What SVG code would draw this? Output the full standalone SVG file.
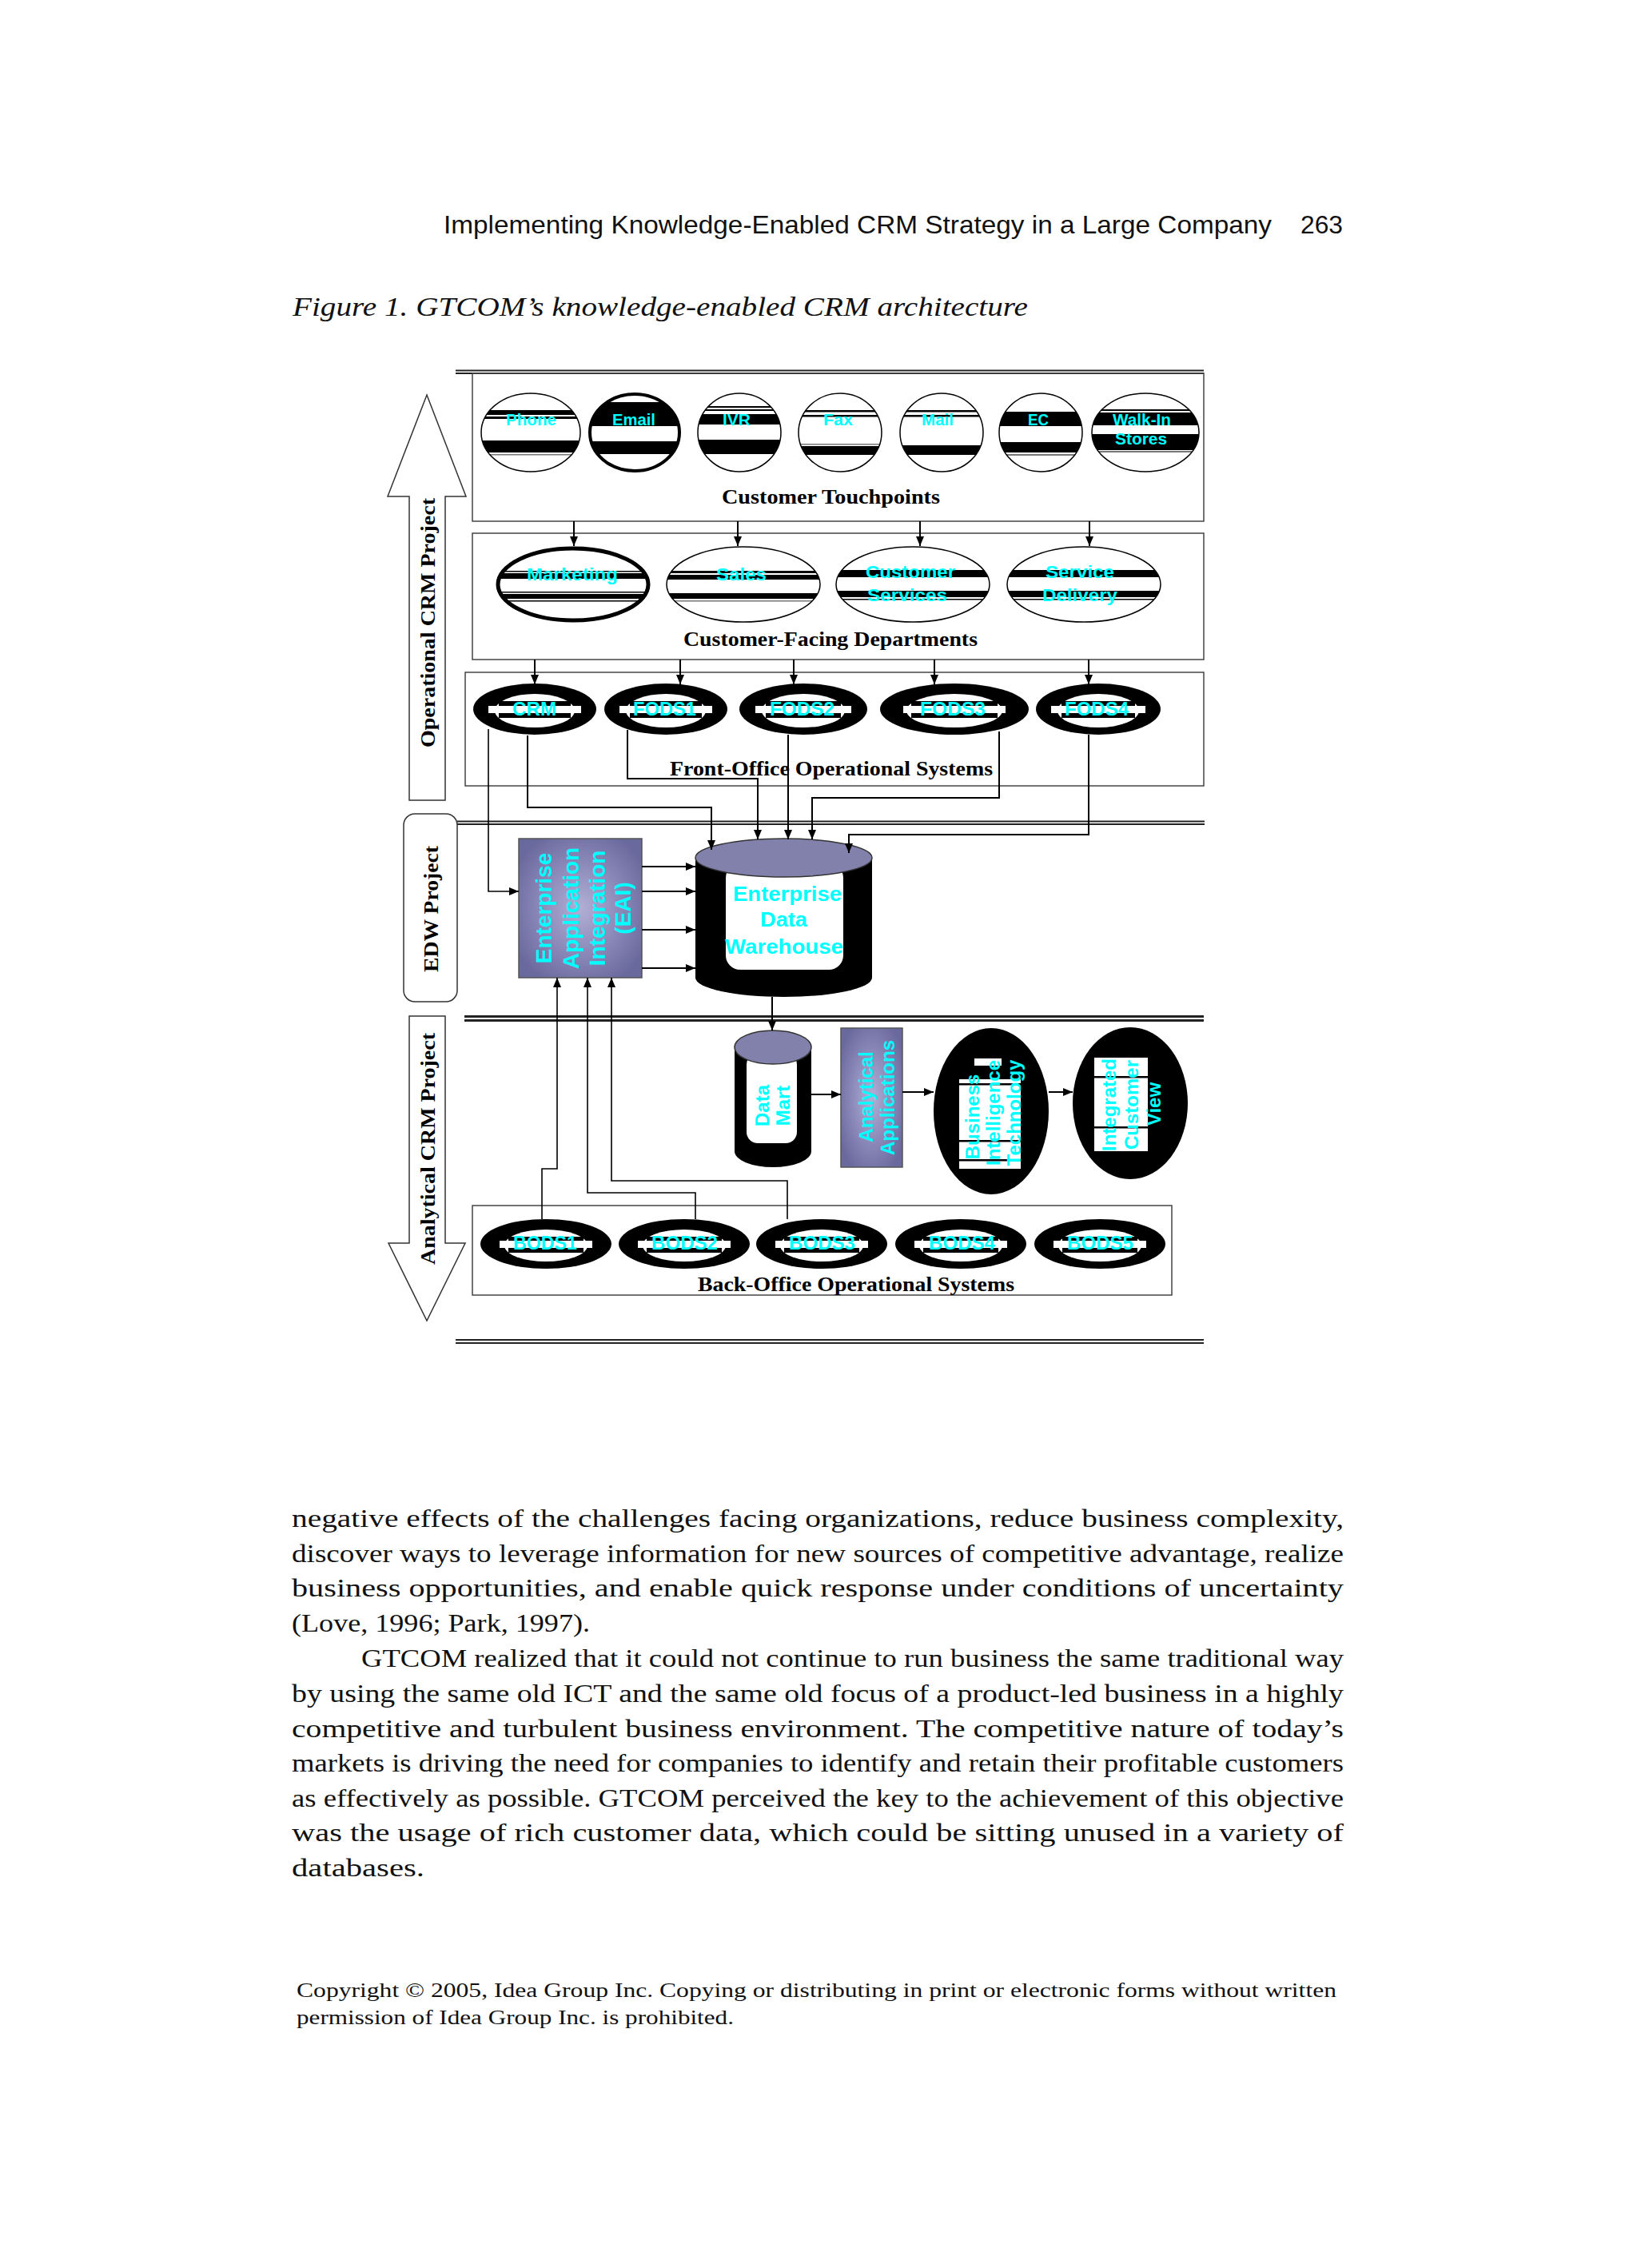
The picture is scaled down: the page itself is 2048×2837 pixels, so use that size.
<svg xmlns="http://www.w3.org/2000/svg" width="2048" height="2837" viewBox="0 0 2048 2837">
<style>
.hdr{font-family:"Liberation Sans",Arial,Helvetica,sans-serif;font-size:32px;fill:#111}
.cap{font-family:"Liberation Serif","Times New Roman",serif;font-style:italic;font-size:33px;fill:#111}
.ttl{font-family:"Liberation Serif","Times New Roman",serif;font-weight:bold;font-size:26px;fill:#000;text-anchor:middle}
.vt{font-family:"Liberation Serif","Times New Roman",serif;font-weight:bold;font-size:26px;fill:#000;text-anchor:middle;dominant-baseline:central}
.lbl{font-family:"Liberation Sans",Arial,sans-serif;font-weight:bold;fill:#00FFFF;text-anchor:middle}
.box{fill:none;stroke:#444;stroke-width:1.5}
.eo{fill:none;stroke:#000;stroke-width:1.5}
.conn{fill:none;stroke:#000;stroke-width:2}
.thin{fill:none;stroke:#000;stroke-width:1.6}
.arr{marker-end:url(#ah)}
.body{font-family:"Liberation Serif","Times New Roman",serif;font-size:31px;fill:#111}
.copy{font-family:"Liberation Serif","Times New Roman",serif;font-size:26px;fill:#111}
.dl{stroke:#222;fill:none}
.gl{stroke:#999;stroke-width:1}
.purp{fill:url(#purp);stroke:#555;stroke-width:1.5}
.top{fill:#8181AB;stroke:#333;stroke-width:1.5}
</style>
<defs>
<marker id="ah" viewBox="0 0 12 10" refX="12" refY="5" markerWidth="12" markerHeight="10" markerUnits="userSpaceOnUse" orient="auto"><path d="M0,0 L12,5 L0,10 z" fill="#000"/></marker>
<radialGradient id="purp" cx="50%" cy="50%" r="60%"><stop offset="0" stop-color="#B2AFD6"/><stop offset="1" stop-color="#6A699E"/></radialGradient>
<clipPath id="c-phone"><ellipse cx="664" cy="541" rx="62" ry="49"/></clipPath>
<clipPath id="c-email"><ellipse cx="794" cy="541" rx="57" ry="49"/></clipPath>
<clipPath id="c-ivr"><ellipse cx="925" cy="541" rx="52" ry="49"/></clipPath>
<clipPath id="c-fax"><ellipse cx="1051" cy="541" rx="52" ry="49"/></clipPath>
<clipPath id="c-mail"><ellipse cx="1178" cy="541" rx="52" ry="49"/></clipPath>
<clipPath id="c-ec"><ellipse cx="1302" cy="541" rx="52" ry="49"/></clipPath>
<clipPath id="c-walk"><ellipse cx="1433" cy="541" rx="67" ry="49"/></clipPath>
<clipPath id="c-mkt"><ellipse cx="717" cy="731" rx="96" ry="47"/></clipPath>
<clipPath id="c-sales"><ellipse cx="930" cy="731" rx="96" ry="47"/></clipPath>
<clipPath id="c-cs"><ellipse cx="1142" cy="731" rx="96" ry="47"/></clipPath>
<clipPath id="c-sd"><ellipse cx="1356" cy="731" rx="96" ry="47"/></clipPath>
<clipPath id="c-aa"><rect x="1052" y="1286" width="77" height="174"/></clipPath>
</defs>
<rect width="2048" height="2837" fill="#fff"/>

<!-- page header and caption -->
<text class="hdr" x="555" y="292" textLength="1036" lengthAdjust="spacingAndGlyphs">Implementing Knowledge-Enabled CRM Strategy in a Large Company</text>
<text class="hdr" x="1627" y="292" textLength="53" lengthAdjust="spacingAndGlyphs">263</text>
<text class="cap" x="366" y="395" textLength="920" lengthAdjust="spacingAndGlyphs">Figure 1. GTCOM’s knowledge-enabled CRM architecture</text>

<!-- separator double lines -->
<g id="separators">
<line class="dl" x1="570" y1="463.5" x2="1506" y2="463.5" stroke-width="1.8"/>
<line class="dl" x1="570" y1="467" x2="1506" y2="467" stroke-width="1.8"/>
<line class="dl" x1="572" y1="1027.5" x2="1507" y2="1027.5" stroke-width="2"/>
<line class="dl" x1="572" y1="1031" x2="1507" y2="1031" stroke-width="2"/>
<line class="dl" x1="581" y1="1271.5" x2="1506" y2="1271.5" stroke-width="3.2"/>
<line class="dl" x1="581" y1="1276.5" x2="1506" y2="1276.5" stroke-width="3.2"/>
<line class="dl" x1="570" y1="1676" x2="1506" y2="1676" stroke-width="2"/>
<line class="dl" x1="570" y1="1680" x2="1506" y2="1680" stroke-width="2"/>
</g>

<!-- project markers -->
<g id="operational-crm-project">
<polygon points="534,494 583,621 557,621 557,1001 512,1001 512,621 485,621" fill="#fff" stroke="#333" stroke-width="1.5"/>
<text class="vt" transform="translate(535,779) rotate(-90)" textLength="312" lengthAdjust="spacingAndGlyphs">Operational CRM Project</text>
</g>
<g id="edw-project">
<rect x="505" y="1018" width="67" height="235" rx="14" fill="#fff" stroke="#333" stroke-width="1.5"/>
<text class="vt" transform="translate(539,1137) rotate(-90)" textLength="158" lengthAdjust="spacingAndGlyphs">EDW Project</text>
</g>
<g id="analytical-crm-project">
<polygon points="512,1271 557,1271 557,1555 582,1555 534,1652 486,1555 512,1555" fill="#fff" stroke="#333" stroke-width="1.5"/>
<text class="vt" transform="translate(535,1437) rotate(-90)" textLength="290" lengthAdjust="spacingAndGlyphs">Analytical CRM Project</text>
</g>

<!-- group boxes -->
<g id="customer-touchpoints">
<rect class="box" x="591" y="467" width="915" height="185"/>
<text class="ttl" x="1039.5" y="630" textLength="273" lengthAdjust="spacingAndGlyphs">Customer Touchpoints</text>
</g>
<g id="customer-facing-departments">
<rect class="box" x="591" y="667" width="915" height="158"/>
<text class="ttl" x="1039" y="808" textLength="368" lengthAdjust="spacingAndGlyphs">Customer-Facing Departments</text>
</g>
<g id="front-office-systems">
<rect class="box" x="582" y="841" width="924" height="142"/>
</g>
<g id="back-office-systems">
<rect class="box" x="591" y="1508" width="875" height="112"/>
<text class="ttl" x="1071" y="1615" textLength="396" lengthAdjust="spacingAndGlyphs">Back-Office Operational Systems</text>
</g>

<!-- touchpoints -->
<g id="tp-phone">
<ellipse cx="664" cy="541" rx="62" ry="49" fill="#fff"/>
<g clip-path="url(#c-phone)"><rect x="600" y="513" width="130" height="6"/><rect x="600" y="521" width="130" height="3"/><rect x="600" y="551" width="130" height="15"/><rect x="600" y="568" width="130" height="1.5" fill="#777"/></g>
<ellipse class="eo" cx="664" cy="541" rx="62" ry="49"/>
<text class="lbl" x="664.5" y="532" font-size="21" textLength="63" lengthAdjust="spacingAndGlyphs">Phone</text>
</g>
<g id="tp-email">
<ellipse cx="794" cy="541" rx="57" ry="49" fill="#fff"/>
<g clip-path="url(#c-email)"><rect x="735" y="503" width="120" height="30"/><rect x="735" y="552" width="120" height="16"/></g>
<ellipse cx="794" cy="541" rx="56" ry="48" fill="none" stroke="#000" stroke-width="4"/>
<text class="lbl" x="793" y="532" font-size="21" textLength="54" lengthAdjust="spacingAndGlyphs">Email</text>
</g>
<g id="tp-ivr">
<ellipse cx="925" cy="541" rx="52" ry="49" fill="#fff"/>
<g clip-path="url(#c-ivr)"><rect x="870" y="508" width="110" height="2"/><rect x="870" y="512" width="110" height="2"/><rect x="870" y="518" width="110" height="13"/><rect x="870" y="550" width="110" height="18"/></g>
<ellipse class="eo" cx="925" cy="541" rx="52" ry="49"/>
<text class="lbl" x="921.5" y="532" font-size="21" textLength="35" lengthAdjust="spacingAndGlyphs">IVR</text>
</g>
<g id="tp-fax">
<ellipse cx="1051" cy="541" rx="52" ry="49" fill="#fff"/>
<g clip-path="url(#c-fax)"><rect x="995" y="513" width="110" height="2.5"/><rect x="995" y="519" width="110" height="2.5"/><rect x="995" y="555" width="110" height="1.5" fill="#777"/><rect x="995" y="558" width="110" height="11"/></g>
<ellipse class="eo" cx="1051" cy="541" rx="52" ry="49"/>
<text class="lbl" x="1048.5" y="532" font-size="21" textLength="37" lengthAdjust="spacingAndGlyphs">Fax</text>
</g>
<g id="tp-mail">
<ellipse cx="1178" cy="541" rx="52" ry="49" fill="#fff"/>
<g clip-path="url(#c-mail)"><rect x="1120" y="513" width="110" height="2.5"/><rect x="1120" y="519" width="110" height="2.5"/><rect x="1120" y="557" width="110" height="12"/></g>
<ellipse class="eo" cx="1178" cy="541" rx="52" ry="49"/>
<text class="lbl" x="1173" y="532" font-size="21" textLength="40" lengthAdjust="spacingAndGlyphs">Mail</text>
</g>
<g id="tp-ec">
<ellipse cx="1302" cy="541" rx="52" ry="49" fill="#fff"/>
<g clip-path="url(#c-ec)"><rect x="1245" y="515" width="110" height="18"/><rect x="1245" y="553" width="110" height="13"/><rect x="1245" y="568" width="110" height="2" fill="#777"/></g>
<ellipse class="eo" cx="1302" cy="541" rx="52" ry="49"/>
<text class="lbl" x="1299" y="532" font-size="21" textLength="26" lengthAdjust="spacingAndGlyphs">EC</text>
</g>
<g id="tp-walkin">
<ellipse cx="1433" cy="541" rx="67" ry="49" fill="#fff"/>
<g clip-path="url(#c-walk)"><rect x="1360" y="512" width="150" height="2"/><rect x="1360" y="516" width="150" height="16"/><rect x="1360" y="543" width="150" height="20"/><rect x="1360" y="564" width="150" height="2" fill="#777"/></g>
<ellipse class="eo" cx="1433" cy="541" rx="67" ry="49"/>
<text class="lbl" x="1428.5" y="532" font-size="21" textLength="73" lengthAdjust="spacingAndGlyphs">Walk-In</text>
<text class="lbl" x="1427.5" y="556" font-size="21" textLength="65" lengthAdjust="spacingAndGlyphs">Stores</text>
</g>

<!-- departments -->
<g id="dept-marketing">
<ellipse cx="717" cy="731" rx="96" ry="47" fill="#fff"/>
<g clip-path="url(#c-mkt)"><rect x="615" y="714" width="205" height="1.5"/><rect x="615" y="717" width="205" height="7"/><rect x="615" y="740" width="205" height="1.5"/><rect x="615" y="743" width="205" height="6"/><rect x="615" y="751" width="205" height="1.5"/></g>
<ellipse cx="717" cy="731" rx="94" ry="45" fill="none" stroke="#000" stroke-width="5"/>
<text class="lbl" x="716" y="726" font-size="22" textLength="114" lengthAdjust="spacingAndGlyphs">Marketing</text>
</g>
<g id="dept-sales">
<ellipse cx="930" cy="731" rx="96" ry="47" fill="#fff"/>
<g clip-path="url(#c-sales)"><rect x="830" y="714" width="205" height="3"/><rect x="830" y="719" width="205" height="6"/><rect x="830" y="742" width="205" height="7"/><rect x="830" y="751" width="205" height="1.5" fill="#777"/></g>
<ellipse class="eo" cx="930" cy="731" rx="96" ry="47"/>
<text class="lbl" x="927.5" y="726" font-size="22" textLength="63" lengthAdjust="spacingAndGlyphs">Sales</text>
</g>
<g id="dept-customer-services">
<ellipse cx="1142" cy="731" rx="96" ry="47" fill="#fff"/>
<g clip-path="url(#c-cs)"><rect x="1042" y="713" width="205" height="9"/><rect x="1042" y="739" width="205" height="8"/><rect x="1042" y="749" width="205" height="1.5"/></g>
<ellipse class="eo" cx="1142" cy="731" rx="96" ry="47"/>
<text class="lbl" x="1139" y="723" font-size="22" textLength="112" lengthAdjust="spacingAndGlyphs">Customer</text>
<text class="lbl" x="1135" y="752" font-size="22" textLength="100" lengthAdjust="spacingAndGlyphs">Services</text>
</g>
<g id="dept-service-delivery">
<ellipse cx="1356" cy="731" rx="96" ry="47" fill="#fff"/>
<g clip-path="url(#c-sd)"><rect x="1255" y="713" width="205" height="9"/><rect x="1255" y="739" width="205" height="8"/><rect x="1255" y="749" width="205" height="1.5"/></g>
<ellipse class="eo" cx="1356" cy="731" rx="96" ry="47"/>
<text class="lbl" x="1351" y="723" font-size="22" textLength="86" lengthAdjust="spacingAndGlyphs">Service</text>
<text class="lbl" x="1351" y="752" font-size="22" textLength="94" lengthAdjust="spacingAndGlyphs">Delivery</text>
</g>

<!-- front-office systems -->
<g id="fo-crm">
<ellipse cx="669" cy="887" rx="77" ry="32"/>
<ellipse cx="669" cy="889" rx="50" ry="21" fill="#fff"/>
<rect x="624" y="877" width="90" height="21"/>
<rect x="611" y="883" width="116" height="9" fill="#fff"/>
<text class="lbl" x="668.5" y="895" font-size="24" textLength="55" lengthAdjust="spacingAndGlyphs">CRM</text>
</g>
<g id="fo-fods1">
<ellipse cx="833" cy="887" rx="77" ry="32"/>
<ellipse cx="833" cy="889" rx="50" ry="21" fill="#fff"/>
<rect x="788" y="877" width="90" height="21"/>
<rect x="775" y="883" width="116" height="9" fill="#fff"/>
<text class="lbl" x="831.5" y="895" font-size="24" textLength="79" lengthAdjust="spacingAndGlyphs">FODS1</text>
</g>
<g id="fo-fods2">
<ellipse cx="1005" cy="887" rx="80" ry="32"/>
<ellipse cx="1005" cy="889" rx="52" ry="21" fill="#fff"/>
<rect x="958" y="877" width="94" height="21"/>
<rect x="945" y="883" width="120" height="9" fill="#fff"/>
<text class="lbl" x="1003.5" y="895" font-size="24" textLength="81" lengthAdjust="spacingAndGlyphs">FODS2</text>
</g>
<g id="fo-fods3">
<ellipse cx="1194" cy="887" rx="93" ry="32"/>
<ellipse cx="1194" cy="889" rx="60" ry="21" fill="#fff"/>
<rect x="1140" y="877" width="108" height="21"/>
<rect x="1130" y="883" width="128" height="9" fill="#fff"/>
<text class="lbl" x="1192" y="895" font-size="24" textLength="82" lengthAdjust="spacingAndGlyphs">FODS3</text>
</g>
<g id="fo-fods4">
<ellipse cx="1374" cy="887" rx="78" ry="32"/>
<ellipse cx="1374" cy="889" rx="51" ry="21" fill="#fff"/>
<rect x="1328" y="877" width="92" height="21"/>
<rect x="1315" y="883" width="118" height="9" fill="#fff"/>
<text class="lbl" x="1372" y="895" font-size="24" textLength="80" lengthAdjust="spacingAndGlyphs">FODS4</text>
</g>

<!-- EAI -->
<g id="eai">
<rect class="purp" x="649" y="1049" width="154" height="174"/>
<text class="lbl" font-size="28" transform="translate(690,1136) rotate(-90)">Enterprise</text>
<text class="lbl" font-size="28" transform="translate(724,1136) rotate(-90)">Application</text>
<text class="lbl" font-size="28" transform="translate(757,1136) rotate(-90)">Integration</text>
<text class="lbl" font-size="28" transform="translate(789,1136) rotate(-90)">(EAI)</text>
</g>

<!-- EDW -->
<g id="edw">
<rect x="870" y="1073" width="221" height="150"/>
<ellipse cx="980.5" cy="1223" rx="110.5" ry="24"/>
<rect x="908" y="1080" width="147" height="133" rx="18" fill="#fff"/>
<ellipse class="top" cx="980.5" cy="1073" rx="110.5" ry="24"/>
<text class="lbl" x="985" y="1127" font-size="26" textLength="136" lengthAdjust="spacingAndGlyphs">Enterprise</text>
<text class="lbl" x="980.5" y="1159" font-size="26" textLength="59" lengthAdjust="spacingAndGlyphs">Data</text>
<text class="lbl" x="981" y="1193" font-size="26" textLength="148" lengthAdjust="spacingAndGlyphs">Warehouse</text>
</g>

<!-- Data Mart -->
<g id="data-mart">
<rect x="919" y="1310" width="96" height="130"/>
<ellipse cx="967" cy="1440" rx="48" ry="20"/>
<rect x="934" y="1318" width="63" height="112" rx="14" fill="#fff"/>
<ellipse class="top" cx="967" cy="1310" rx="48" ry="21"/>
<text class="lbl" font-size="24" transform="translate(962,1383) rotate(-90)">Data</text>
<text class="lbl" font-size="24" transform="translate(988,1383) rotate(-90)">Mart</text>
</g>

<!-- Analytical Applications -->
<g id="analytical-applications">
<rect class="purp" x="1052" y="1286" width="77" height="174"/>
<g clip-path="url(#c-aa)">
<text class="lbl" font-size="24" transform="translate(1092,1372) rotate(-90)">Analytical</text>
<text class="lbl" font-size="24" transform="translate(1119,1373) rotate(-90)">Applications</text>
</g>
</g>

<!-- Business Intelligence Technology -->
<g id="bi-technology">
<ellipse cx="1240" cy="1390" rx="72" ry="104"/>
<rect x="1219" y="1324" width="34" height="9" fill="#fff"/>
<rect x="1200" y="1350" width="77" height="112" fill="#fff"/>
<rect x="1200" y="1355" width="77" height="2.5"/>
<rect x="1200" y="1426" width="77" height="2.5"/>
<rect x="1200" y="1450" width="77" height="2.5"/>
<text class="lbl" font-size="24" transform="translate(1225,1397) rotate(-90)">Business</text>
<text class="lbl" font-size="24" transform="translate(1251,1392) rotate(-90)">Intelligence</text>
<text class="lbl" font-size="24" transform="translate(1277,1392) rotate(-90)">Technology</text>
</g>

<!-- Integrated Customer View -->
<g id="integrated-customer-view">
<ellipse cx="1414" cy="1380" rx="72" ry="95"/>
<rect x="1369" y="1323" width="67" height="117" fill="#fff"/>
<rect x="1362" y="1346" width="80" height="2.5"/>
<rect x="1362" y="1409" width="80" height="2.5"/>
<text class="lbl" font-size="24" transform="translate(1396,1382) rotate(-90)">Integrated</text>
<text class="lbl" font-size="24" transform="translate(1424,1382) rotate(-90)">Customer</text>
<text class="lbl" font-size="24" transform="translate(1452,1381) rotate(-90)">View</text>
</g>

<!-- back-office systems -->
<g id="bo-bods1">
<ellipse cx="683" cy="1556" rx="82" ry="31"/>
<ellipse cx="683" cy="1558" rx="52" ry="20" fill="#fff"/>
<rect x="636" y="1547" width="94" height="20"/>
<rect x="625" y="1552" width="116" height="9" fill="#fff"/>
<text class="lbl" x="682" y="1563" font-size="24" textLength="80" lengthAdjust="spacingAndGlyphs">BODS1</text>
</g>
<g id="bo-bods2">
<ellipse cx="856" cy="1556" rx="82" ry="31"/>
<ellipse cx="856" cy="1558" rx="52" ry="20" fill="#fff"/>
<rect x="809" y="1547" width="94" height="20"/>
<rect x="798" y="1552" width="116" height="9" fill="#fff"/>
<text class="lbl" x="856.5" y="1563" font-size="24" textLength="83" lengthAdjust="spacingAndGlyphs">BODS2</text>
</g>
<g id="bo-bods3">
<ellipse cx="1028" cy="1556" rx="82" ry="31"/>
<ellipse cx="1028" cy="1558" rx="52" ry="20" fill="#fff"/>
<rect x="981" y="1547" width="94" height="20"/>
<rect x="970" y="1552" width="116" height="9" fill="#fff"/>
<text class="lbl" x="1028.5" y="1563" font-size="24" textLength="83" lengthAdjust="spacingAndGlyphs">BODS3</text>
</g>
<g id="bo-bods4">
<ellipse cx="1202" cy="1556" rx="82" ry="31"/>
<ellipse cx="1202" cy="1558" rx="52" ry="20" fill="#fff"/>
<rect x="1155" y="1547" width="94" height="20"/>
<rect x="1144" y="1552" width="116" height="9" fill="#fff"/>
<text class="lbl" x="1203.5" y="1563" font-size="24" textLength="83" lengthAdjust="spacingAndGlyphs">BODS4</text>
</g>
<g id="bo-bods5">
<ellipse cx="1376" cy="1556" rx="82" ry="31"/>
<ellipse cx="1376" cy="1558" rx="52" ry="20" fill="#fff"/>
<rect x="1329" y="1547" width="94" height="20"/>
<rect x="1318" y="1552" width="116" height="9" fill="#fff"/>
<text class="lbl" x="1376.5" y="1563" font-size="24" textLength="83" lengthAdjust="spacingAndGlyphs">BODS5</text>
</g>

<!-- connectors -->
<g id="connectors">
<path class="conn arr" d="M718,652 V683"/>
<path class="conn arr" d="M923,652 V683"/>
<path class="conn arr" d="M1151,652 V683"/>
<path class="conn arr" d="M1363,652 V683"/>
<path class="conn arr" d="M669,825 V856"/>
<path class="conn arr" d="M851,825 V856"/>
<path class="conn arr" d="M993,825 V856"/>
<path class="conn arr" d="M1169,825 V856"/>
<path class="conn arr" d="M1362,825 V856"/>
<path class="thin arr" d="M611,912 V1115 H649"/>
<path class="conn arr" d="M660,920 V1010 H890 V1063"/>
<path class="conn arr" d="M785,913 V974 H948 V1050"/>
<path class="conn arr" d="M986,919 V1050"/>
<path class="conn arr" d="M1250,915 V998 H1016 V1050"/>
<path class="conn arr" d="M1362,919 V1044 H1062 V1067"/>
<path class="conn arr" d="M803,1084 H870"/>
<path class="conn arr" d="M803,1115 H870"/>
<path class="conn arr" d="M803,1163 H870"/>
<path class="conn arr" d="M803,1211 H870"/>
<path class="conn arr" d="M966,1247 V1289"/>
<path class="conn arr" d="M1015,1369 H1052"/>
<path class="conn arr" d="M1129,1366 H1168"/>
<path class="conn arr" d="M1312,1366 H1342"/>
<path class="thin arr" d="M678,1525 V1462 H697 V1223"/>
<path class="thin arr" d="M870,1525 V1492 H735 V1223"/>
<path class="thin arr" d="M985,1525 V1477 H765 V1223"/>
</g>

<!-- front office title drawn above connectors -->
<text class="ttl" x="1040" y="970" textLength="404" lengthAdjust="spacingAndGlyphs">Front-Office Operational Systems</text>

<!-- body text -->
<g id="body-text">
<text class="body" x="365" y="1910" textLength="1316" lengthAdjust="spacingAndGlyphs">negative effects of the challenges facing organizations, reduce business complexity,</text>
<text class="body" x="365" y="1954" textLength="1316" lengthAdjust="spacingAndGlyphs">discover ways to leverage information for new sources of competitive advantage, realize</text>
<text class="body" x="365" y="1997" textLength="1316" lengthAdjust="spacingAndGlyphs">business opportunities, and enable quick response under conditions of uncertainty</text>
<text class="body" x="365" y="2041" textLength="373" lengthAdjust="spacingAndGlyphs">(Love, 1996; Park, 1997).</text>
<text class="body" x="452" y="2085" textLength="1229" lengthAdjust="spacingAndGlyphs">GTCOM realized that it could not continue to run business the same traditional way</text>
<text class="body" x="365" y="2129" textLength="1316" lengthAdjust="spacingAndGlyphs">by using the same old ICT and the same old focus of a product-led business in a highly</text>
<text class="body" x="365" y="2173" textLength="1316" lengthAdjust="spacingAndGlyphs">competitive and turbulent business environment. The competitive nature of today’s</text>
<text class="body" x="365" y="2216" textLength="1316" lengthAdjust="spacingAndGlyphs">markets is driving the need for companies to identify and retain their profitable customers</text>
<text class="body" x="365" y="2260" textLength="1316" lengthAdjust="spacingAndGlyphs">as effectively as possible. GTCOM perceived the key to the achievement of this objective</text>
<text class="body" x="365" y="2303" textLength="1316" lengthAdjust="spacingAndGlyphs">was the usage of rich customer data, which could be sitting unused in a variety of</text>
<text class="body" x="365" y="2347" textLength="166" lengthAdjust="spacingAndGlyphs">databases.</text>
</g>
<text class="copy" x="371" y="2498" textLength="1301" lengthAdjust="spacingAndGlyphs">Copyright © 2005, Idea Group Inc. Copying or distributing in print or electronic forms without written</text>
<text class="copy" x="371" y="2532" textLength="547" lengthAdjust="spacingAndGlyphs">permission of Idea Group Inc. is prohibited.</text>
</svg>
